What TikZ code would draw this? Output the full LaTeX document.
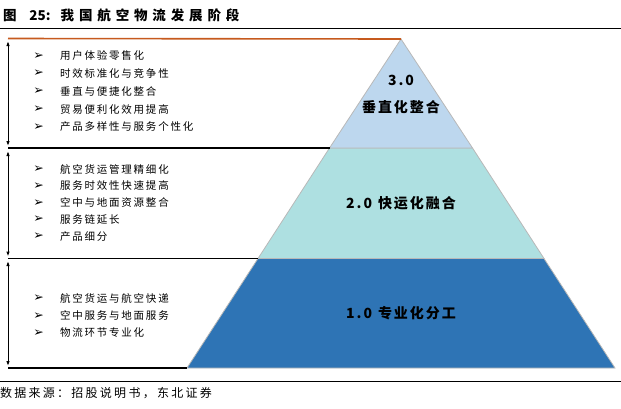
\documentclass[tikz,border=0pt]{standalone}
\usepackage{fontspec}
\newfontfamily\cjk{Noto Sans CJK SC}
\newfontfamily\cjkls[LetterSpace=17]{Noto Sans CJK SC}
\newfontfamily\cjklvl[LetterSpace=14]{Noto Sans CJK SC}
\newfontfamily\cjktitle[LetterSpace=36]{Noto Sans CJK SC}
\newfontfamily\cjksrc[LetterSpace=19]{Noto Sans CJK SC}
\newfontfamily\dejavu{DejaVu Sans}
\usetikzlibrary{arrows.meta}
\definecolor{orangeline}{HTML}{C65A1E}
\definecolor{layc}{HTML}{BDD7EE}
\definecolor{layb}{HTML}{AEE0E1}
\definecolor{laya}{HTML}{2E74B5}
\definecolor{edgegray}{HTML}{B8B8B8}
\begin{document}
\begin{tikzpicture}[x=1pt,y=-1pt,
  every node/.style={inner sep=0pt, outer sep=0pt},
  layer/.style={draw=edgegray, line width=0.8pt},
  item/.style={anchor=west, font=\cjkls\fontsize{10.5}{12}\selectfont},
  bul/.style={anchor=center, font=\dejavu\fontsize{12.5}{14}\selectfont},
  lvl/.style={anchor=center, font=\cjklvl\bfseries\fontsize{14}{16}\selectfont},
  sep/.style={line width=1.3pt, black},
  span/.style={line width=1pt, {Latex[length=5pt,width=3.5pt]}-{Latex[length=5pt,width=3.5pt]}}]
\useasboundingbox (0,0) rectangle (621,408);
% pyramid corners
\coordinate (apex) at (401,39);
\coordinate (c3l) at (329.5,148);
\coordinate (c3r) at (472.5,148);
\coordinate (c2l) at (258,258.5);
\coordinate (c2r) at (544,258.5);
\coordinate (c1l) at (187,368);
\coordinate (c1r) at (615,368);
% layers
\filldraw[layer, fill=laya] (c2l) -- (c2r) -- (c1r) -- (c1l) -- cycle;
\filldraw[layer, fill=layb] (c3l) -- (c3r) -- (c2r) -- (c2l) -- cycle;
\filldraw[layer, fill=layc] (apex) -- (c3r) -- (c3l) -- cycle;
% title
\node[anchor=west, font=\cjk\bfseries\fontsize{13.5}{15}\selectfont] (title) at (3,15) {图\hspace{13pt}25:\hspace{10pt}{\cjktitle 我国航空物流发展阶段}};
\coordinate (tl0) at (0,28.5);
\coordinate (tl1) at (621,28.5);
\draw[line width=1pt] (tl0) -- (tl1);
% orange top line
\coordinate (o0) at (8,38.5);
\draw[orangeline, line width=1.6pt] (o0) -- (apex);
% separators
\coordinate (s3) at (8,148);
\coordinate (s2) at (8,258.5);
\coordinate (s1) at (8,368);
\draw[sep] (s3) -- (c3l);
\draw[sep] (s2) -- (c2l);
\draw[sep] (s1) -- (c1l);
% span arrows
\coordinate (a3t) at (8,41); \coordinate (a3b) at (8,146);
\coordinate (a2t) at (8,151); \coordinate (a2b) at (8,256.5);
\coordinate (a1t) at (8,261); \coordinate (a1b) at (8,366);
\draw[span] (a3t) -- (a3b);
\draw[span] (a2t) -- (a2b);
\draw[span] (a1t) -- (a1b);
% level labels
\node[lvl] (l3a) at (401,80) {3.0};
\node[lvl] (l3b) at (401,107.5) {垂直化整合};
\node[lvl] (l2) at (401,203) {2.0\hspace{6pt}快运化融合};
\node[lvl] (l1) at (401,313) {1.0\hspace{6pt}专业化分工};
% items top
\foreach \t [count=\i] in {用户体验零售化,时效标准化与竞争性,垂直与便捷化整合,贸易便利化效用提高,产品多样性与服务个性化}{
  \pgfmathsetmacro{\yy}{55.8+(\i-1)*17.8}
  \node[bul] (b3\i) at (38.5,\yy) {➢};
  \node[item] (t3\i) at (60,\yy) {\t};
}
% items middle
\foreach \t [count=\i] in {航空货运管理精细化,服务时效性快速提高,空中与地面资源整合,服务链延长,产品细分}{
  \pgfmathsetmacro{\yy}{169.3+(\i-1)*16.7}
  \node[bul] (b2\i) at (38.5,\yy) {➢};
  \node[item] (t2\i) at (60,\yy) {\t};
}
% items bottom
\foreach \t [count=\i] in {航空货运与航空快递,空中服务与地面服务,物流环节专业化}{
  \pgfmathsetmacro{\yy}{298.5+(\i-1)*17.2}
  \node[bul] (b1\i) at (38.5,\yy) {➢};
  \node[item] (t1\i) at (60,\yy) {\t};
}
% bottom rule and source
\coordinate (bl0) at (0,381);
\coordinate (bl1) at (621,381);
\draw[line width=1pt] (bl0) -- (bl1);
\node[anchor=west, font=\cjksrc\fontsize{12}{14}\selectfont] (src) at (0,393.5) {数据来源：招股说明书，东北证券};
\end{tikzpicture}
\end{document}
